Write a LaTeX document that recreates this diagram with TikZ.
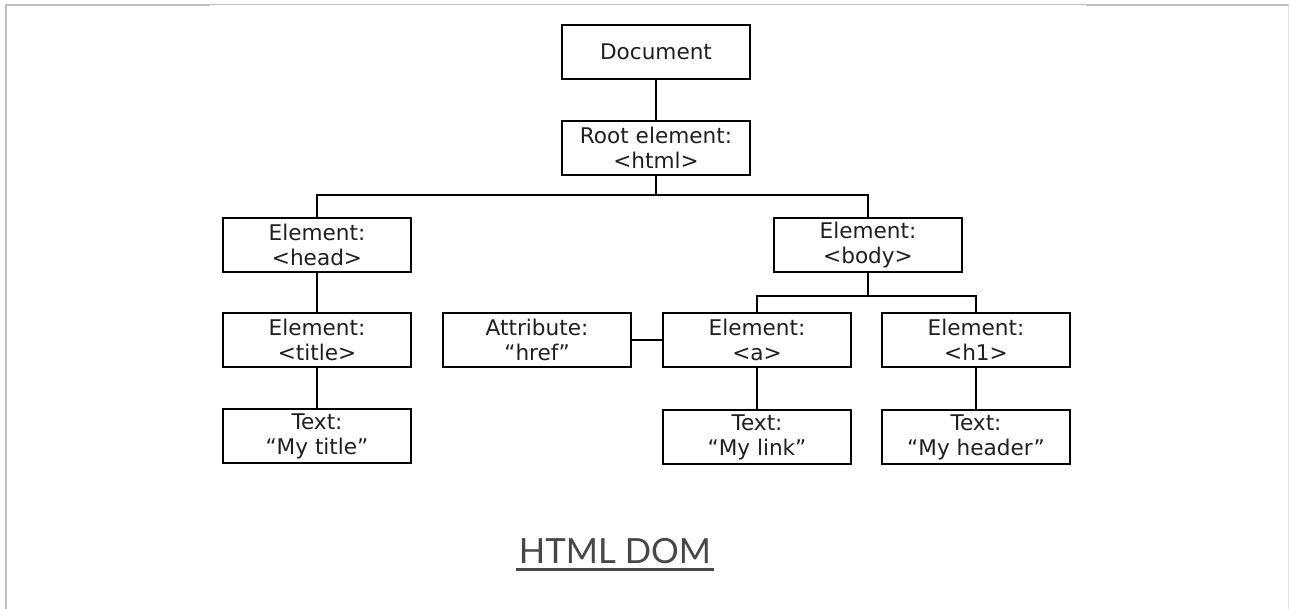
\documentclass[tikz,border=0pt]{standalone}
\usepackage{fontspec}
\setmainfont{DejaVu Sans}
\newfontfamily\captionfont{Lato}
\begin{document}
\begin{tikzpicture}[x=0.75pt,y=-0.75pt,
  domnode/.style={draw=black, line width=1.3pt, minimum width=141pt, minimum height=41pt,
    inner sep=0pt, align=center, text=black!88,
    font=\fontsize{16.2pt}{18.8pt}\selectfont},
  link/.style={draw=black, line width=1.3pt},
  frameline/.style={draw=black!25}]
\useasboundingbox (0,0) rectangle (1289,609);

% page frame
\draw[frameline, line width=1.5pt] (6,609) -- (6,5) -- (210,5);
\draw[frameline, line width=0.8pt] (210,4.5) -- (1086,4.5);
\draw[frameline, line width=1.5pt] (1086,5) -- (1289,5);
\draw[draw=black!12, line width=0.8pt] (1288.5,5) -- (1288.5,609);

% tree nodes
\node[domnode] (doc)     at (656,52)  {Document};
\node[domnode] (root)    at (656,148) {Root element:\\<html>};
\node[domnode] (head)    at (317,245) {Element:\\<head>};
\node[domnode] (body)    at (868,245) {Element:\\<body>};
\node[domnode] (title)   at (317,340) {Element:\\<title>};
\node[domnode] (attr)    at (537,340) {Attribute:\\“href”};
\node[domnode] (anode)   at (757,340) {Element:\\<a>};
\node[domnode] (hone)    at (976,340) {Element:\\<h1>};
\node[domnode] (ttitle)  at (317,436) {Text:\\“My title”};
\node[domnode] (tlink)   at (757,437) {Text:\\“My link”};
\node[domnode] (theader) at (976,437) {Text:\\“My header”};

% junction points
\coordinate (rootj) at (656,195);
\coordinate (bodyj) at (868,296);

% connectors
\draw[link] (doc.south) -- (root.north);
\draw[link] (root.south) -- (rootj);
\draw[link] (rootj) -| (head.north);
\draw[link] (rootj) -| (body.north);
\draw[link] (head.south) -- (title.north);
\draw[link] (title.south) -- (ttitle.north);
\draw[link] (body.south) -- (bodyj);
\draw[link] (bodyj) -| (anode.north);
\draw[link] (bodyj) -| (hone.north);
\draw[link] (attr.east) -- (anode.west);
\draw[link] (anode.south) -- (tlink.north);
\draw[link] (hone.south) -- (theader.north);

% caption
\node[anchor=base, inner sep=0pt, text=black!72,
  font=\captionfont\fontsize{26pt}{30pt}\selectfont] (caption) at (615,563) {HTML DOM};
\draw[black!72, line width=2.4pt]
  ([xshift=-2pt,yshift=-4.6pt]caption.base west) -- ([xshift=2pt,yshift=-4.6pt]caption.base east);
\end{tikzpicture}
\end{document}
